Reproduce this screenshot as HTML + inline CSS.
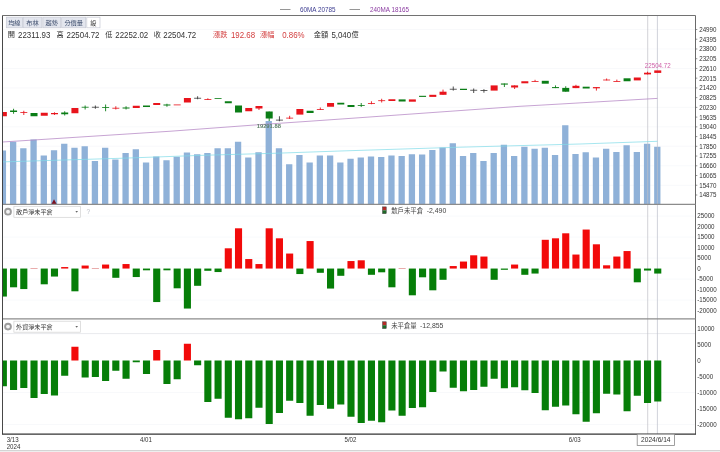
<!DOCTYPE html>
<html lang="zh-Hant"><head><meta charset="utf-8"><title>chart</title>
<style>html,body{margin:0;padding:0;background:#fff;}body{width:720px;height:452px;overflow:hidden;}svg{display:block;}text{font-family:"Liberation Sans","Noto Sans CJK TC",sans-serif;}</style>
</head><body>
<svg width="720" height="452" viewBox="0 0 720 452">
<rect x="0" y="0" width="720" height="452" fill="#ffffff"/>
<defs><clipPath id="cp"><rect x="2.50" y="15.50" width="693.00" height="418.70"/></clipPath></defs>
<g stroke="#f6f7fa" stroke-width="0.8">
<line x1="2.5" y1="29.50" x2="695.5" y2="29.50"/>
<line x1="2.5" y1="48.97" x2="695.5" y2="48.97"/>
<line x1="2.5" y1="68.44" x2="695.5" y2="68.44"/>
<line x1="2.5" y1="87.91" x2="695.5" y2="87.91"/>
<line x1="2.5" y1="107.38" x2="695.5" y2="107.38"/>
<line x1="2.5" y1="126.85" x2="695.5" y2="126.85"/>
<line x1="2.5" y1="146.32" x2="695.5" y2="146.32"/>
<line x1="2.5" y1="165.79" x2="695.5" y2="165.79"/>
<line x1="2.5" y1="185.26" x2="695.5" y2="185.26"/>
<line x1="2.5" y1="216.05" x2="695.5" y2="216.05"/>
<line x1="2.5" y1="237.05" x2="695.5" y2="237.05"/>
<line x1="2.5" y1="258.05" x2="695.5" y2="258.05"/>
<line x1="2.5" y1="279.05" x2="695.5" y2="279.05"/>
<line x1="2.5" y1="300.05" x2="695.5" y2="300.05"/>
<line x1="2.5" y1="392.50" x2="695.5" y2="392.50"/>
<line x1="2.5" y1="424.50" x2="695.5" y2="424.50"/>
<line x1="2.5" y1="333.6" x2="695.5" y2="333.6" stroke="#e2e3e8"/>
</g>
<g clip-path="url(#cp)">
<g fill="#8fb1d8">
<rect x="-0.25" y="150.50" width="6.30" height="53.80"/>
<rect x="9.97" y="141.75" width="6.30" height="62.55"/>
<rect x="20.20" y="148.25" width="6.30" height="56.05"/>
<rect x="30.42" y="139.50" width="6.30" height="64.80"/>
<rect x="40.65" y="155.50" width="6.30" height="48.80"/>
<rect x="50.88" y="150.25" width="6.30" height="54.05"/>
<rect x="61.10" y="143.75" width="6.30" height="60.55"/>
<rect x="71.33" y="147.75" width="6.30" height="56.55"/>
<rect x="81.55" y="146.25" width="6.30" height="58.05"/>
<rect x="91.77" y="161.00" width="6.30" height="43.30"/>
<rect x="102.00" y="147.75" width="6.30" height="56.55"/>
<rect x="112.22" y="159.50" width="6.30" height="44.80"/>
<rect x="122.45" y="153.00" width="6.30" height="51.30"/>
<rect x="132.67" y="149.25" width="6.30" height="55.05"/>
<rect x="142.90" y="162.50" width="6.30" height="41.80"/>
<rect x="153.12" y="156.50" width="6.30" height="47.80"/>
<rect x="163.35" y="160.25" width="6.30" height="44.05"/>
<rect x="173.57" y="156.75" width="6.30" height="47.55"/>
<rect x="183.80" y="152.50" width="6.30" height="51.80"/>
<rect x="194.03" y="154.25" width="6.30" height="50.05"/>
<rect x="204.25" y="153.00" width="6.30" height="51.30"/>
<rect x="214.47" y="148.25" width="6.30" height="56.05"/>
<rect x="224.70" y="148.25" width="6.30" height="56.05"/>
<rect x="234.92" y="141.75" width="6.30" height="62.55"/>
<rect x="245.15" y="157.50" width="6.30" height="46.80"/>
<rect x="255.37" y="152.25" width="6.30" height="52.05"/>
<rect x="265.60" y="121.00" width="6.30" height="83.30"/>
<rect x="275.82" y="148.25" width="6.30" height="56.05"/>
<rect x="286.05" y="164.25" width="6.30" height="40.05"/>
<rect x="296.27" y="155.00" width="6.30" height="49.30"/>
<rect x="306.50" y="162.50" width="6.30" height="41.80"/>
<rect x="316.72" y="155.50" width="6.30" height="48.80"/>
<rect x="326.95" y="155.50" width="6.30" height="48.80"/>
<rect x="337.18" y="162.50" width="6.30" height="41.80"/>
<rect x="347.40" y="158.75" width="6.30" height="45.55"/>
<rect x="357.62" y="157.50" width="6.30" height="46.80"/>
<rect x="367.85" y="156.50" width="6.30" height="47.80"/>
<rect x="378.07" y="157.00" width="6.30" height="47.30"/>
<rect x="388.30" y="155.50" width="6.30" height="48.80"/>
<rect x="398.52" y="156.00" width="6.30" height="48.30"/>
<rect x="408.75" y="154.25" width="6.30" height="50.05"/>
<rect x="418.97" y="154.50" width="6.30" height="49.80"/>
<rect x="429.20" y="150.00" width="6.30" height="54.30"/>
<rect x="439.43" y="147.50" width="6.30" height="56.80"/>
<rect x="449.65" y="143.25" width="6.30" height="61.05"/>
<rect x="459.88" y="156.00" width="6.30" height="48.30"/>
<rect x="470.10" y="153.00" width="6.30" height="51.30"/>
<rect x="480.32" y="161.00" width="6.30" height="43.30"/>
<rect x="490.55" y="153.00" width="6.30" height="51.30"/>
<rect x="500.77" y="144.75" width="6.30" height="59.55"/>
<rect x="511.00" y="156.00" width="6.30" height="48.30"/>
<rect x="521.23" y="146.75" width="6.30" height="57.55"/>
<rect x="531.45" y="148.75" width="6.30" height="55.55"/>
<rect x="541.67" y="147.75" width="6.30" height="56.55"/>
<rect x="551.90" y="155.00" width="6.30" height="49.30"/>
<rect x="562.12" y="125.25" width="6.30" height="79.05"/>
<rect x="572.35" y="154.00" width="6.30" height="50.30"/>
<rect x="582.57" y="152.25" width="6.30" height="52.05"/>
<rect x="592.80" y="157.50" width="6.30" height="46.80"/>
<rect x="603.02" y="148.75" width="6.30" height="55.55"/>
<rect x="613.25" y="152.00" width="6.30" height="52.30"/>
<rect x="623.48" y="145.25" width="6.30" height="59.05"/>
<rect x="633.70" y="152.00" width="6.30" height="52.30"/>
<rect x="643.92" y="143.75" width="6.30" height="60.55"/>
<rect x="654.15" y="146.75" width="6.30" height="57.55"/>
</g>
<line x1="647.7" y1="15.5" x2="647.7" y2="434.2" stroke="#c0c0c6" stroke-width="0.7"/>
<line x1="657.4" y1="15.5" x2="657.4" y2="434.2" stroke="#bcc0ca" stroke-width="0.7"/>
<polyline fill="none" stroke="#b486c4" stroke-width="0.75" points="2.5,142.00 170.0,131.25 256.0,124.90 310.0,121.20 350.0,118.40 520.0,106.30 540.0,105.20 657.4,98.40"/>
<polyline fill="none" stroke="#7fdbe8" stroke-width="0.7" points="2.5,161.90 120.0,158.30 200.0,155.40 280.0,153.10 340.0,151.00 460.0,147.20 580.0,144.00 657.4,141.30"/>
<rect x="-0.15" y="112.00" width="7.00" height="4.25" fill="#e8141c"/>
<line x1="13.57" y1="108.75" x2="13.57" y2="113.75" stroke="#0a7d16" stroke-width="0.9"/>
<rect x="10.07" y="110.50" width="7.00" height="1.50" fill="#0a7d16"/>
<line x1="23.80" y1="110.75" x2="23.80" y2="115.00" stroke="#e8141c" stroke-width="0.9"/>
<rect x="20.30" y="112.20" width="7.00" height="0.80" fill="#e8141c"/>
<rect x="30.52" y="113.00" width="7.00" height="3.25" fill="#0a7d16"/>
<rect x="40.75" y="112.75" width="7.00" height="3.00" fill="#e8141c"/>
<line x1="54.48" y1="112.25" x2="54.48" y2="115.00" stroke="#e8141c" stroke-width="0.9"/>
<rect x="50.98" y="113.00" width="7.00" height="1.25" fill="#e8141c"/>
<line x1="64.70" y1="111.25" x2="64.70" y2="115.50" stroke="#0a7d16" stroke-width="0.9"/>
<rect x="61.20" y="112.50" width="7.00" height="1.75" fill="#0a7d16"/>
<rect x="71.42" y="108.00" width="7.00" height="5.25" fill="#e8141c"/>
<line x1="85.15" y1="105.50" x2="85.15" y2="109.50" stroke="#0a7d16" stroke-width="0.9"/>
<rect x="81.65" y="106.80" width="7.00" height="0.80" fill="#0a7d16"/>
<line x1="95.37" y1="105.50" x2="95.37" y2="108.75" stroke="#3a3a3a" stroke-width="0.9"/>
<rect x="91.87" y="106.80" width="7.00" height="0.80" fill="#3a3a3a"/>
<line x1="105.60" y1="104.50" x2="105.60" y2="111.25" stroke="#0a7d16" stroke-width="0.9"/>
<rect x="102.10" y="107.20" width="7.00" height="0.80" fill="#0a7d16"/>
<line x1="115.82" y1="106.25" x2="115.82" y2="109.50" stroke="#e8141c" stroke-width="0.9"/>
<rect x="112.32" y="107.80" width="7.00" height="0.80" fill="#e8141c"/>
<line x1="126.05" y1="106.25" x2="126.05" y2="109.50" stroke="#0a7d16" stroke-width="0.9"/>
<rect x="122.55" y="107.50" width="7.00" height="1.00" fill="#0a7d16"/>
<rect x="132.77" y="105.75" width="7.00" height="2.25" fill="#e8141c"/>
<rect x="143.00" y="105.50" width="7.00" height="1.50" fill="#0a7d16"/>
<rect x="153.22" y="103.00" width="7.00" height="2.00" fill="#e8141c"/>
<line x1="166.95" y1="103.75" x2="166.95" y2="106.75" stroke="#0a7d16" stroke-width="0.9"/>
<rect x="163.45" y="104.50" width="7.00" height="1.00" fill="#0a7d16"/>
<rect x="173.67" y="104.50" width="7.00" height="0.80" fill="#e8141c"/>
<rect x="183.90" y="98.00" width="7.00" height="4.50" fill="#e8141c"/>
<line x1="197.62" y1="96.25" x2="197.62" y2="99.25" stroke="#3a3a3a" stroke-width="0.9"/>
<rect x="194.12" y="97.80" width="7.00" height="0.80" fill="#3a3a3a"/>
<line x1="207.85" y1="98.25" x2="207.85" y2="100.00" stroke="#e8141c" stroke-width="0.9"/>
<rect x="204.35" y="99.00" width="7.00" height="0.80" fill="#e8141c"/>
<rect x="214.57" y="98.00" width="7.00" height="0.80" fill="#0a7d16"/>
<rect x="224.80" y="101.25" width="7.00" height="2.00" fill="#0a7d16"/>
<rect x="235.02" y="105.50" width="7.00" height="7.00" fill="#0a7d16"/>
<rect x="245.25" y="108.00" width="7.00" height="3.25" fill="#e8141c"/>
<line x1="258.98" y1="106.00" x2="258.98" y2="110.00" stroke="#e8141c" stroke-width="0.9"/>
<rect x="255.48" y="106.00" width="7.00" height="2.50" fill="#e8141c"/>
<line x1="269.20" y1="111.50" x2="269.20" y2="121.00" stroke="#0a7d16" stroke-width="0.9"/>
<rect x="265.70" y="111.50" width="7.00" height="7.00" fill="#0a7d16"/>
<line x1="279.43" y1="116.25" x2="279.43" y2="121.25" stroke="#3a3a3a" stroke-width="0.9"/>
<rect x="275.93" y="119.70" width="7.00" height="0.80" fill="#3a3a3a"/>
<line x1="289.65" y1="115.80" x2="289.65" y2="119.00" stroke="#e8141c" stroke-width="0.9"/>
<rect x="286.15" y="117.70" width="7.00" height="0.80" fill="#e8141c"/>
<rect x="296.38" y="109.00" width="7.00" height="5.60" fill="#e8141c"/>
<rect x="306.60" y="110.75" width="7.00" height="2.25" fill="#0a7d16"/>
<line x1="320.32" y1="107.50" x2="320.32" y2="110.00" stroke="#e8141c" stroke-width="0.9"/>
<rect x="316.82" y="109.00" width="7.00" height="0.80" fill="#e8141c"/>
<rect x="327.05" y="103.00" width="7.00" height="3.75" fill="#e8141c"/>
<rect x="337.28" y="102.75" width="7.00" height="1.75" fill="#0a7d16"/>
<rect x="347.50" y="105.00" width="7.00" height="2.00" fill="#0a7d16"/>
<line x1="361.23" y1="103.00" x2="361.23" y2="107.00" stroke="#0a7d16" stroke-width="0.9"/>
<rect x="357.73" y="105.00" width="7.00" height="0.80" fill="#0a7d16"/>
<line x1="371.45" y1="101.25" x2="371.45" y2="104.25" stroke="#e8141c" stroke-width="0.9"/>
<rect x="367.95" y="103.00" width="7.00" height="0.80" fill="#e8141c"/>
<line x1="381.68" y1="98.75" x2="381.68" y2="102.50" stroke="#e8141c" stroke-width="0.9"/>
<rect x="378.18" y="100.30" width="7.00" height="0.80" fill="#e8141c"/>
<rect x="388.40" y="99.25" width="7.00" height="1.75" fill="#e8141c"/>
<rect x="398.62" y="99.40" width="7.00" height="2.10" fill="#0a7d16"/>
<rect x="408.85" y="99.40" width="7.00" height="2.30" fill="#e8141c"/>
<rect x="419.07" y="95.80" width="7.00" height="1.10" fill="#0a7d16"/>
<rect x="429.30" y="94.80" width="7.00" height="2.10" fill="#e8141c"/>
<line x1="443.03" y1="89.60" x2="443.03" y2="94.80" stroke="#e8141c" stroke-width="0.9"/>
<rect x="439.53" y="91.70" width="7.00" height="3.10" fill="#e8141c"/>
<line x1="453.25" y1="86.50" x2="453.25" y2="90.60" stroke="#3a3a3a" stroke-width="0.9"/>
<rect x="449.75" y="88.80" width="7.00" height="0.80" fill="#3a3a3a"/>
<rect x="459.98" y="88.75" width="7.00" height="1.25" fill="#0a7d16"/>
<line x1="473.70" y1="88.50" x2="473.70" y2="93.00" stroke="#3a3a3a" stroke-width="0.9"/>
<rect x="470.20" y="89.80" width="7.00" height="0.80" fill="#3a3a3a"/>
<line x1="483.93" y1="89.20" x2="483.93" y2="92.70" stroke="#3a3a3a" stroke-width="0.9"/>
<rect x="480.43" y="90.00" width="7.00" height="0.80" fill="#3a3a3a"/>
<rect x="490.65" y="85.40" width="7.00" height="5.20" fill="#e8141c"/>
<line x1="504.38" y1="83.50" x2="504.38" y2="87.00" stroke="#0a7d16" stroke-width="0.9"/>
<rect x="500.88" y="83.50" width="7.00" height="1.10" fill="#0a7d16"/>
<line x1="514.60" y1="85.40" x2="514.60" y2="89.00" stroke="#e8141c" stroke-width="0.9"/>
<rect x="511.10" y="85.40" width="7.00" height="2.10" fill="#e8141c"/>
<rect x="521.33" y="81.25" width="7.00" height="2.05" fill="#e8141c"/>
<line x1="535.05" y1="79.80" x2="535.05" y2="81.70" stroke="#e8141c" stroke-width="0.9"/>
<rect x="531.55" y="81.00" width="7.00" height="0.80" fill="#e8141c"/>
<rect x="541.77" y="80.80" width="7.00" height="2.90" fill="#0a7d16"/>
<line x1="555.50" y1="85.40" x2="555.50" y2="88.10" stroke="#0a7d16" stroke-width="0.9"/>
<rect x="552.00" y="87.10" width="7.00" height="1.00" fill="#0a7d16"/>
<line x1="565.73" y1="86.25" x2="565.73" y2="91.70" stroke="#0a7d16" stroke-width="0.9"/>
<rect x="562.23" y="87.90" width="7.00" height="3.80" fill="#0a7d16"/>
<line x1="575.95" y1="84.80" x2="575.95" y2="88.10" stroke="#e8141c" stroke-width="0.9"/>
<rect x="572.45" y="85.80" width="7.00" height="2.30" fill="#e8141c"/>
<rect x="582.67" y="86.70" width="7.00" height="1.80" fill="#0a7d16"/>
<line x1="596.40" y1="87.10" x2="596.40" y2="90.60" stroke="#e8141c" stroke-width="0.9"/>
<rect x="592.90" y="87.10" width="7.00" height="1.20" fill="#e8141c"/>
<line x1="606.62" y1="78.50" x2="606.62" y2="80.40" stroke="#e8141c" stroke-width="0.9"/>
<rect x="603.12" y="79.60" width="7.00" height="0.80" fill="#e8141c"/>
<line x1="616.85" y1="79.60" x2="616.85" y2="81.50" stroke="#e8141c" stroke-width="0.9"/>
<rect x="613.35" y="81.00" width="7.00" height="0.80" fill="#e8141c"/>
<rect x="623.58" y="78.30" width="7.00" height="2.95" fill="#0a7d16"/>
<rect x="633.80" y="77.50" width="7.00" height="2.90" fill="#e8141c"/>
<line x1="647.52" y1="71.70" x2="647.52" y2="74.40" stroke="#e8141c" stroke-width="0.9"/>
<rect x="644.02" y="72.70" width="7.00" height="1.70" fill="#e8141c"/>
<rect x="654.25" y="70.40" width="7.00" height="2.50" fill="#e8141c"/>
<rect x="-0.20" y="268.55" width="7.10" height="28.00" fill="#067e08"/>
<rect x="10.02" y="268.55" width="7.10" height="18.75" fill="#067e08"/>
<rect x="20.25" y="268.55" width="7.10" height="20.50" fill="#067e08"/>
<rect x="30.47" y="268.15" width="7.10" height="0.40" fill="#c83030"/>
<rect x="40.70" y="268.55" width="7.10" height="15.75" fill="#067e08"/>
<rect x="50.93" y="268.55" width="7.10" height="8.00" fill="#067e08"/>
<rect x="61.15" y="267.05" width="7.10" height="1.50" fill="#f20a0a"/>
<rect x="71.38" y="268.55" width="7.10" height="22.75" fill="#067e08"/>
<rect x="81.60" y="265.55" width="7.10" height="3.00" fill="#f20a0a"/>
<rect x="91.82" y="268.15" width="7.10" height="0.40" fill="#c83030"/>
<rect x="102.05" y="264.55" width="7.10" height="4.00" fill="#f20a0a"/>
<rect x="112.27" y="268.55" width="7.10" height="9.25" fill="#067e08"/>
<rect x="122.50" y="264.05" width="7.10" height="4.50" fill="#f20a0a"/>
<rect x="132.72" y="268.55" width="7.10" height="8.50" fill="#067e08"/>
<rect x="142.95" y="268.55" width="7.10" height="1.75" fill="#067e08"/>
<rect x="153.17" y="268.55" width="7.10" height="33.50" fill="#067e08"/>
<rect x="163.40" y="268.55" width="7.10" height="1.75" fill="#067e08"/>
<rect x="173.62" y="268.55" width="7.10" height="19.75" fill="#067e08"/>
<rect x="183.85" y="268.55" width="7.10" height="40.00" fill="#067e08"/>
<rect x="194.07" y="268.55" width="7.10" height="17.25" fill="#067e08"/>
<rect x="204.30" y="268.55" width="7.10" height="2.25" fill="#067e08"/>
<rect x="214.52" y="268.55" width="7.10" height="3.50" fill="#067e08"/>
<rect x="224.75" y="248.30" width="7.10" height="20.25" fill="#f20a0a"/>
<rect x="234.97" y="228.30" width="7.10" height="40.25" fill="#f20a0a"/>
<rect x="245.20" y="259.05" width="7.10" height="9.50" fill="#f20a0a"/>
<rect x="255.43" y="264.05" width="7.10" height="4.50" fill="#f20a0a"/>
<rect x="265.65" y="228.30" width="7.10" height="40.25" fill="#f20a0a"/>
<rect x="275.88" y="238.30" width="7.10" height="30.25" fill="#f20a0a"/>
<rect x="286.10" y="253.55" width="7.10" height="15.00" fill="#f20a0a"/>
<rect x="296.32" y="268.55" width="7.10" height="5.50" fill="#067e08"/>
<rect x="306.55" y="241.05" width="7.10" height="27.50" fill="#f20a0a"/>
<rect x="316.77" y="268.55" width="7.10" height="4.25" fill="#067e08"/>
<rect x="327.00" y="268.55" width="7.10" height="20.00" fill="#067e08"/>
<rect x="337.23" y="268.55" width="7.10" height="7.25" fill="#067e08"/>
<rect x="347.45" y="261.05" width="7.10" height="7.50" fill="#f20a0a"/>
<rect x="357.68" y="260.30" width="7.10" height="8.25" fill="#f20a0a"/>
<rect x="367.90" y="268.55" width="7.10" height="6.25" fill="#067e08"/>
<rect x="378.12" y="268.55" width="7.10" height="3.75" fill="#067e08"/>
<rect x="388.35" y="268.55" width="7.10" height="18.75" fill="#067e08"/>
<rect x="398.57" y="268.15" width="7.10" height="0.40" fill="#c83030"/>
<rect x="408.80" y="268.55" width="7.10" height="26.75" fill="#067e08"/>
<rect x="419.02" y="268.55" width="7.10" height="8.75" fill="#067e08"/>
<rect x="429.25" y="268.55" width="7.10" height="21.75" fill="#067e08"/>
<rect x="439.48" y="268.55" width="7.10" height="11.25" fill="#067e08"/>
<rect x="449.70" y="266.05" width="7.10" height="2.50" fill="#f20a0a"/>
<rect x="459.93" y="261.55" width="7.10" height="7.00" fill="#f20a0a"/>
<rect x="470.15" y="255.30" width="7.10" height="13.25" fill="#f20a0a"/>
<rect x="480.38" y="256.55" width="7.10" height="12.00" fill="#f20a0a"/>
<rect x="490.60" y="268.55" width="7.10" height="11.25" fill="#067e08"/>
<rect x="500.82" y="268.55" width="7.10" height="1.25" fill="#067e08"/>
<rect x="511.05" y="264.55" width="7.10" height="4.00" fill="#f20a0a"/>
<rect x="521.28" y="268.55" width="7.10" height="6.25" fill="#067e08"/>
<rect x="531.50" y="268.55" width="7.10" height="5.00" fill="#067e08"/>
<rect x="541.73" y="239.80" width="7.10" height="28.75" fill="#f20a0a"/>
<rect x="551.95" y="238.30" width="7.10" height="30.25" fill="#f20a0a"/>
<rect x="562.18" y="233.30" width="7.10" height="35.25" fill="#f20a0a"/>
<rect x="572.40" y="254.55" width="7.10" height="14.00" fill="#f20a0a"/>
<rect x="582.62" y="229.55" width="7.10" height="39.00" fill="#f20a0a"/>
<rect x="592.85" y="244.30" width="7.10" height="24.25" fill="#f20a0a"/>
<rect x="603.08" y="265.30" width="7.10" height="3.25" fill="#f20a0a"/>
<rect x="613.30" y="256.55" width="7.10" height="12.00" fill="#f20a0a"/>
<rect x="623.53" y="251.05" width="7.10" height="17.50" fill="#f20a0a"/>
<rect x="633.75" y="268.55" width="7.10" height="13.75" fill="#067e08"/>
<rect x="643.98" y="268.55" width="7.10" height="2.00" fill="#067e08"/>
<rect x="654.20" y="268.55" width="7.10" height="5.00" fill="#067e08"/>
<rect x="-0.20" y="360.50" width="7.10" height="25.75" fill="#067e08"/>
<rect x="10.02" y="360.50" width="7.10" height="29.50" fill="#067e08"/>
<rect x="20.25" y="360.50" width="7.10" height="27.50" fill="#067e08"/>
<rect x="30.47" y="360.50" width="7.10" height="37.50" fill="#067e08"/>
<rect x="40.70" y="360.50" width="7.10" height="33.50" fill="#067e08"/>
<rect x="50.93" y="360.50" width="7.10" height="35.00" fill="#067e08"/>
<rect x="61.15" y="360.50" width="7.10" height="15.25" fill="#067e08"/>
<rect x="71.38" y="346.75" width="7.10" height="13.75" fill="#f20a0a"/>
<rect x="81.60" y="360.50" width="7.10" height="17.00" fill="#067e08"/>
<rect x="91.82" y="360.50" width="7.10" height="16.50" fill="#067e08"/>
<rect x="102.05" y="360.50" width="7.10" height="20.50" fill="#067e08"/>
<rect x="112.27" y="360.50" width="7.10" height="10.25" fill="#067e08"/>
<rect x="122.50" y="360.50" width="7.10" height="18.25" fill="#067e08"/>
<rect x="132.72" y="360.50" width="7.10" height="1.75" fill="#067e08"/>
<rect x="142.95" y="360.50" width="7.10" height="13.50" fill="#067e08"/>
<rect x="153.17" y="350.00" width="7.10" height="10.50" fill="#f20a0a"/>
<rect x="163.40" y="360.50" width="7.10" height="23.50" fill="#067e08"/>
<rect x="173.62" y="360.50" width="7.10" height="18.75" fill="#067e08"/>
<rect x="183.85" y="343.75" width="7.10" height="16.75" fill="#f20a0a"/>
<rect x="194.07" y="360.50" width="7.10" height="4.75" fill="#067e08"/>
<rect x="204.30" y="360.50" width="7.10" height="41.50" fill="#067e08"/>
<rect x="214.52" y="360.50" width="7.10" height="38.25" fill="#067e08"/>
<rect x="224.75" y="360.50" width="7.10" height="57.25" fill="#067e08"/>
<rect x="234.97" y="360.50" width="7.10" height="58.75" fill="#067e08"/>
<rect x="245.20" y="360.50" width="7.10" height="57.75" fill="#067e08"/>
<rect x="255.43" y="360.50" width="7.10" height="47.25" fill="#067e08"/>
<rect x="265.65" y="360.50" width="7.10" height="63.50" fill="#067e08"/>
<rect x="275.88" y="360.50" width="7.10" height="52.50" fill="#067e08"/>
<rect x="286.10" y="360.50" width="7.10" height="40.25" fill="#067e08"/>
<rect x="296.32" y="360.50" width="7.10" height="42.50" fill="#067e08"/>
<rect x="306.55" y="360.50" width="7.10" height="55.25" fill="#067e08"/>
<rect x="316.77" y="360.50" width="7.10" height="44.50" fill="#067e08"/>
<rect x="327.00" y="360.50" width="7.10" height="48.25" fill="#067e08"/>
<rect x="337.23" y="360.50" width="7.10" height="44.00" fill="#067e08"/>
<rect x="347.45" y="360.50" width="7.10" height="56.25" fill="#067e08"/>
<rect x="357.68" y="360.50" width="7.10" height="62.50" fill="#067e08"/>
<rect x="367.90" y="360.50" width="7.10" height="60.25" fill="#067e08"/>
<rect x="378.12" y="360.50" width="7.10" height="61.75" fill="#067e08"/>
<rect x="388.35" y="360.50" width="7.10" height="50.00" fill="#067e08"/>
<rect x="398.57" y="360.50" width="7.10" height="55.25" fill="#067e08"/>
<rect x="408.80" y="360.50" width="7.10" height="47.50" fill="#067e08"/>
<rect x="419.02" y="360.50" width="7.10" height="46.75" fill="#067e08"/>
<rect x="429.25" y="360.50" width="7.10" height="31.50" fill="#067e08"/>
<rect x="439.48" y="360.50" width="7.10" height="11.00" fill="#067e08"/>
<rect x="449.70" y="360.50" width="7.10" height="27.25" fill="#067e08"/>
<rect x="459.93" y="360.50" width="7.10" height="30.75" fill="#067e08"/>
<rect x="470.15" y="360.50" width="7.10" height="29.50" fill="#067e08"/>
<rect x="480.38" y="360.50" width="7.10" height="26.25" fill="#067e08"/>
<rect x="490.60" y="360.50" width="7.10" height="18.25" fill="#067e08"/>
<rect x="500.82" y="360.50" width="7.10" height="27.75" fill="#067e08"/>
<rect x="511.05" y="360.50" width="7.10" height="26.75" fill="#067e08"/>
<rect x="521.28" y="360.50" width="7.10" height="29.75" fill="#067e08"/>
<rect x="531.50" y="360.50" width="7.10" height="32.50" fill="#067e08"/>
<rect x="541.73" y="360.50" width="7.10" height="49.75" fill="#067e08"/>
<rect x="551.95" y="360.50" width="7.10" height="46.25" fill="#067e08"/>
<rect x="562.18" y="360.50" width="7.10" height="45.00" fill="#067e08"/>
<rect x="572.40" y="360.50" width="7.10" height="53.75" fill="#067e08"/>
<rect x="582.62" y="360.50" width="7.10" height="61.25" fill="#067e08"/>
<rect x="592.85" y="360.50" width="7.10" height="52.75" fill="#067e08"/>
<rect x="603.08" y="360.50" width="7.10" height="33.25" fill="#067e08"/>
<rect x="613.30" y="360.50" width="7.10" height="34.00" fill="#067e08"/>
<rect x="623.53" y="360.50" width="7.10" height="50.75" fill="#067e08"/>
<rect x="633.75" y="360.50" width="7.10" height="35.25" fill="#067e08"/>
<rect x="643.98" y="360.50" width="7.10" height="42.50" fill="#067e08"/>
<rect x="654.20" y="360.50" width="7.10" height="41.00" fill="#067e08"/>
</g>
<polygon points="54.02,199.2 51.32,204.3 56.73,204.3" fill="#7a1020"/>
<g stroke="#727272" stroke-width="1" fill="none">
<line x1="2.5" y1="15.5" x2="695.5" y2="15.5"/>
<line x1="695.5" y1="15.5" x2="695.5" y2="434.2" stroke="#6a6a6a"/>
<line x1="2.5" y1="204.3" x2="695.5" y2="204.3" stroke="#8c8c8c" stroke-width="1.3"/>
<line x1="2.5" y1="318.8" x2="695.5" y2="318.8" stroke="#8c8c8c" stroke-width="1.3"/>
</g>
<g stroke="#333" stroke-width="0.9" fill="none">
<line x1="2.5" y1="15.5" x2="2.5" y2="434.2"/>
<line x1="2.0" y1="434.2" x2="696.0" y2="434.2" stroke-width="1.3"/>
</g>
<rect x="0" y="450" width="720" height="1.4" fill="#d4d4d4"/>
<g fill="#333" stroke="none">
<line x1="695.5" y1="29.50" x2="697.3" y2="29.50" stroke="#666" stroke-width="0.7"/>
<text transform="translate(699.20 31.90) scale(0.940 1)" font-size="6.6">24990</text>
<line x1="695.5" y1="39.23" x2="697.3" y2="39.23" stroke="#666" stroke-width="0.7"/>
<text transform="translate(699.20 41.63) scale(0.940 1)" font-size="6.6">24395</text>
<line x1="695.5" y1="48.97" x2="697.3" y2="48.97" stroke="#666" stroke-width="0.7"/>
<text transform="translate(699.20 51.37) scale(0.940 1)" font-size="6.6">23800</text>
<line x1="695.5" y1="58.70" x2="697.3" y2="58.70" stroke="#666" stroke-width="0.7"/>
<text transform="translate(699.20 61.10) scale(0.940 1)" font-size="6.6">23205</text>
<line x1="695.5" y1="68.44" x2="697.3" y2="68.44" stroke="#666" stroke-width="0.7"/>
<text transform="translate(699.20 70.84) scale(0.940 1)" font-size="6.6">22610</text>
<line x1="695.5" y1="78.17" x2="697.3" y2="78.17" stroke="#666" stroke-width="0.7"/>
<text transform="translate(699.20 80.58) scale(0.940 1)" font-size="6.6">22015</text>
<line x1="695.5" y1="87.91" x2="697.3" y2="87.91" stroke="#666" stroke-width="0.7"/>
<text transform="translate(699.20 90.31) scale(0.940 1)" font-size="6.6">21420</text>
<line x1="695.5" y1="97.64" x2="697.3" y2="97.64" stroke="#666" stroke-width="0.7"/>
<text transform="translate(699.20 100.05) scale(0.940 1)" font-size="6.6">20825</text>
<line x1="695.5" y1="107.38" x2="697.3" y2="107.38" stroke="#666" stroke-width="0.7"/>
<text transform="translate(699.20 109.78) scale(0.940 1)" font-size="6.6">20230</text>
<line x1="695.5" y1="117.11" x2="697.3" y2="117.11" stroke="#666" stroke-width="0.7"/>
<text transform="translate(699.20 119.52) scale(0.940 1)" font-size="6.6">19635</text>
<line x1="695.5" y1="126.85" x2="697.3" y2="126.85" stroke="#666" stroke-width="0.7"/>
<text transform="translate(699.20 129.25) scale(0.940 1)" font-size="6.6">19040</text>
<line x1="695.5" y1="136.58" x2="697.3" y2="136.58" stroke="#666" stroke-width="0.7"/>
<text transform="translate(699.20 138.98) scale(0.940 1)" font-size="6.6">18445</text>
<line x1="695.5" y1="146.32" x2="697.3" y2="146.32" stroke="#666" stroke-width="0.7"/>
<text transform="translate(699.20 148.72) scale(0.940 1)" font-size="6.6">17850</text>
<line x1="695.5" y1="156.06" x2="697.3" y2="156.06" stroke="#666" stroke-width="0.7"/>
<text transform="translate(699.20 158.46) scale(0.940 1)" font-size="6.6">17255</text>
<line x1="695.5" y1="165.79" x2="697.3" y2="165.79" stroke="#666" stroke-width="0.7"/>
<text transform="translate(699.20 168.19) scale(0.940 1)" font-size="6.6">16660</text>
<line x1="695.5" y1="175.52" x2="697.3" y2="175.52" stroke="#666" stroke-width="0.7"/>
<text transform="translate(699.20 177.92) scale(0.940 1)" font-size="6.6">16065</text>
<line x1="695.5" y1="185.26" x2="697.3" y2="185.26" stroke="#666" stroke-width="0.7"/>
<text transform="translate(699.20 187.66) scale(0.940 1)" font-size="6.6">15470</text>
<line x1="695.5" y1="195.00" x2="697.3" y2="195.00" stroke="#666" stroke-width="0.7"/>
<text transform="translate(699.20 197.40) scale(0.940 1)" font-size="6.6">14875</text>
<text transform="translate(697.30 218.15) scale(0.940 1)" font-size="6.6">25000</text>
<text transform="translate(697.30 228.65) scale(0.940 1)" font-size="6.6">20000</text>
<text transform="translate(697.30 239.15) scale(0.940 1)" font-size="6.6">15000</text>
<text transform="translate(697.30 249.65) scale(0.940 1)" font-size="6.6">10000</text>
<text transform="translate(697.30 260.15) scale(0.940 1)" font-size="6.6">5000</text>
<text transform="translate(697.30 270.65) scale(0.940 1)" font-size="6.6">0</text>
<text transform="translate(697.30 281.15) scale(0.940 1)" font-size="6.6">-5000</text>
<text transform="translate(697.30 291.65) scale(0.940 1)" font-size="6.6">-10000</text>
<text transform="translate(697.30 302.15) scale(0.940 1)" font-size="6.6">-15000</text>
<text transform="translate(697.30 312.65) scale(0.940 1)" font-size="6.6">-20000</text>
<text transform="translate(697.30 330.90) scale(0.940 1)" font-size="6.6">10000</text>
<text transform="translate(697.30 346.90) scale(0.940 1)" font-size="6.6">5000</text>
<text transform="translate(697.30 362.90) scale(0.940 1)" font-size="6.6">0</text>
<text transform="translate(697.30 378.90) scale(0.940 1)" font-size="6.6">-5000</text>
<text transform="translate(697.30 394.90) scale(0.940 1)" font-size="6.6">-10000</text>
<text transform="translate(697.30 410.90) scale(0.940 1)" font-size="6.6">-15000</text>
<text transform="translate(697.30 426.90) scale(0.940 1)" font-size="6.6">-20000</text>
</g>
<line x1="280" y1="9.5" x2="290.5" y2="9.5" stroke="#8a8a8a" stroke-width="0.9"/>
<text transform="translate(300.00 11.90) scale(0.960 1)" font-size="6.6" fill="#3c3c90">60MA 20785</text>
<line x1="349.5" y1="9.5" x2="360" y2="9.5" stroke="#8a8a8a" stroke-width="0.9"/>
<text transform="translate(370.00 11.90) scale(0.960 1)" font-size="6.6" fill="#8a3aa0">240MA 18165</text>
<rect x="6.3" y="17.2" width="16.1" height="10.6" fill="#e3e6ee" stroke="#c6c9d4" stroke-width="0.7"/>
<text x="14.35" y="24.90" font-size="6.2" fill="#3a4a6a" text-anchor="middle">均線</text>
<rect x="23.2" y="17.2" width="18.7" height="10.6" fill="#e3e6ee" stroke="#c6c9d4" stroke-width="0.7"/>
<text x="32.55" y="24.90" font-size="6.2" fill="#3a4a6a" text-anchor="middle">布林</text>
<rect x="42.9" y="17.2" width="17.8" height="10.6" fill="#e3e6ee" stroke="#c6c9d4" stroke-width="0.7"/>
<text x="51.80" y="24.90" font-size="6.2" fill="#3a4a6a" text-anchor="middle">趨勢</text>
<rect x="61.7" y="17.2" width="24.0" height="10.6" fill="#e3e6ee" stroke="#c6c9d4" stroke-width="0.7"/>
<text x="73.70" y="24.90" font-size="6.2" fill="#3a4a6a" text-anchor="middle">分價量</text>
<rect x="86.8" y="17.2" width="13.2" height="10.6" fill="#ffffff" stroke="#c6c9d4" stroke-width="0.7"/>
<text x="93.40" y="24.90" font-size="6.2" fill="#333" text-anchor="middle">設</text>
<text x="7.80" y="37.40" font-size="7.2" fill="#333">開</text>
<text transform="translate(18.00 37.70) scale(0.930 1)" font-size="8.5" fill="#333">22311.93</text>
<text x="56.40" y="37.40" font-size="7.2" fill="#333">高</text>
<text transform="translate(66.60 37.70) scale(0.930 1)" font-size="8.5" fill="#333">22504.72</text>
<text x="105.20" y="37.40" font-size="7.2" fill="#333">低</text>
<text transform="translate(115.30 37.70) scale(0.930 1)" font-size="8.5" fill="#333">22252.02</text>
<text x="153.80" y="37.40" font-size="7.2" fill="#333">收</text>
<text transform="translate(163.30 37.70) scale(0.930 1)" font-size="8.5" fill="#333">22504.72</text>
<text x="213.00" y="37.40" font-size="7.2" fill="#d23c3c">漲跌</text>
<text transform="translate(230.90 37.70) scale(0.930 1)" font-size="8.5" fill="#d23c3c">192.68</text>
<text x="260.00" y="37.40" font-size="7.2" fill="#d23c3c">漲幅</text>
<text transform="translate(282.20 37.70) scale(0.930 1)" font-size="8.5" fill="#d23c3c">0.86%</text>
<text x="313.75" y="37.40" font-size="7.2" fill="#333">金額</text>
<text transform="translate(331.40 37.70) scale(0.930 1)" font-size="8.5" fill="#333">5,040</text>
<text x="351.60" y="37.40" font-size="7.2" fill="#333">億</text>
<text transform="translate(644.80 67.90) scale(0.940 1)" font-size="6.6" fill="#cf5fa8">22504.72</text>
<text transform="translate(256.7 127.9) scale(1.0 1)" font-size="5.8" font-weight="bold" fill="#5f8068">19291.88</text>
<circle cx="8" cy="211.7" r="2.9" fill="#f4f4f4" stroke="#9c9c9c" stroke-width="1.9"/>
<rect x="13.9" y="206.3" width="66.5" height="11" fill="#fff" stroke="#d2d2d2" stroke-width="0.7"/>
<text x="16.10" y="214.00" font-size="6.1" fill="#333">散戶淨未平倉</text>
<polygon points="75.4,211.1 78,211.1 76.7,212.8" fill="#666"/>
<rect x="382.6" y="206.9" width="3.6" height="3.4" fill="#b82a26"/>
<rect x="382.6" y="210.3" width="3.6" height="3.3" fill="#1e6a28"/>
<rect x="382.6" y="206.9" width="3.6" height="6.7" fill="none" stroke="#333" stroke-width="0.5"/>
<text x="391.20" y="213.00" font-size="6.4" fill="#444">散戶未平倉</text>
<text transform="translate(426.70 213.20) scale(0.960 1)" font-size="7.2" fill="#444">-2,490</text>
<text x="86.50" y="214.30" font-size="6.5" fill="#b8bcc4">?</text>
<circle cx="8" cy="326.6" r="2.9" fill="#f4f4f4" stroke="#9c9c9c" stroke-width="1.9"/>
<rect x="13.9" y="321.2" width="66.5" height="11" fill="#fff" stroke="#d2d2d2" stroke-width="0.7"/>
<text x="16.10" y="328.90" font-size="6.1" fill="#333">外資淨未平倉</text>
<polygon points="75.4,326.0 78,326.0 76.7,327.7" fill="#666"/>
<rect x="382.6" y="321.8" width="3.6" height="3.4" fill="#b82a26"/>
<rect x="382.6" y="325.2" width="3.6" height="3.3" fill="#1e6a28"/>
<rect x="382.6" y="321.8" width="3.6" height="6.7" fill="none" stroke="#333" stroke-width="0.5"/>
<text x="391.20" y="327.90" font-size="6.4" fill="#444">未平倉量</text>
<text transform="translate(420.00 328.10) scale(0.960 1)" font-size="7.2" fill="#444">-12,855</text>
<text transform="translate(6.70 441.80) scale(0.960 1)" font-size="6.4" fill="#333">3/13</text>
<text transform="translate(140.00 441.80) scale(0.960 1)" font-size="6.4" fill="#333">4/01</text>
<text transform="translate(344.50 441.80) scale(0.960 1)" font-size="6.4" fill="#333">5/02</text>
<text transform="translate(568.80 441.80) scale(0.960 1)" font-size="6.4" fill="#333">6/03</text>
<text transform="translate(6.70 448.70) scale(0.960 1)" font-size="6.4" fill="#333">2024</text>
<rect x="637.2" y="434.2" width="37.2" height="11.2" fill="#fff" stroke="#888" stroke-width="0.8"/>
<text transform="translate(655.80 442.30) scale(0.960 1)" font-size="6.9" fill="#333" text-anchor="middle">2024/6/14</text>
</svg></body></html>
